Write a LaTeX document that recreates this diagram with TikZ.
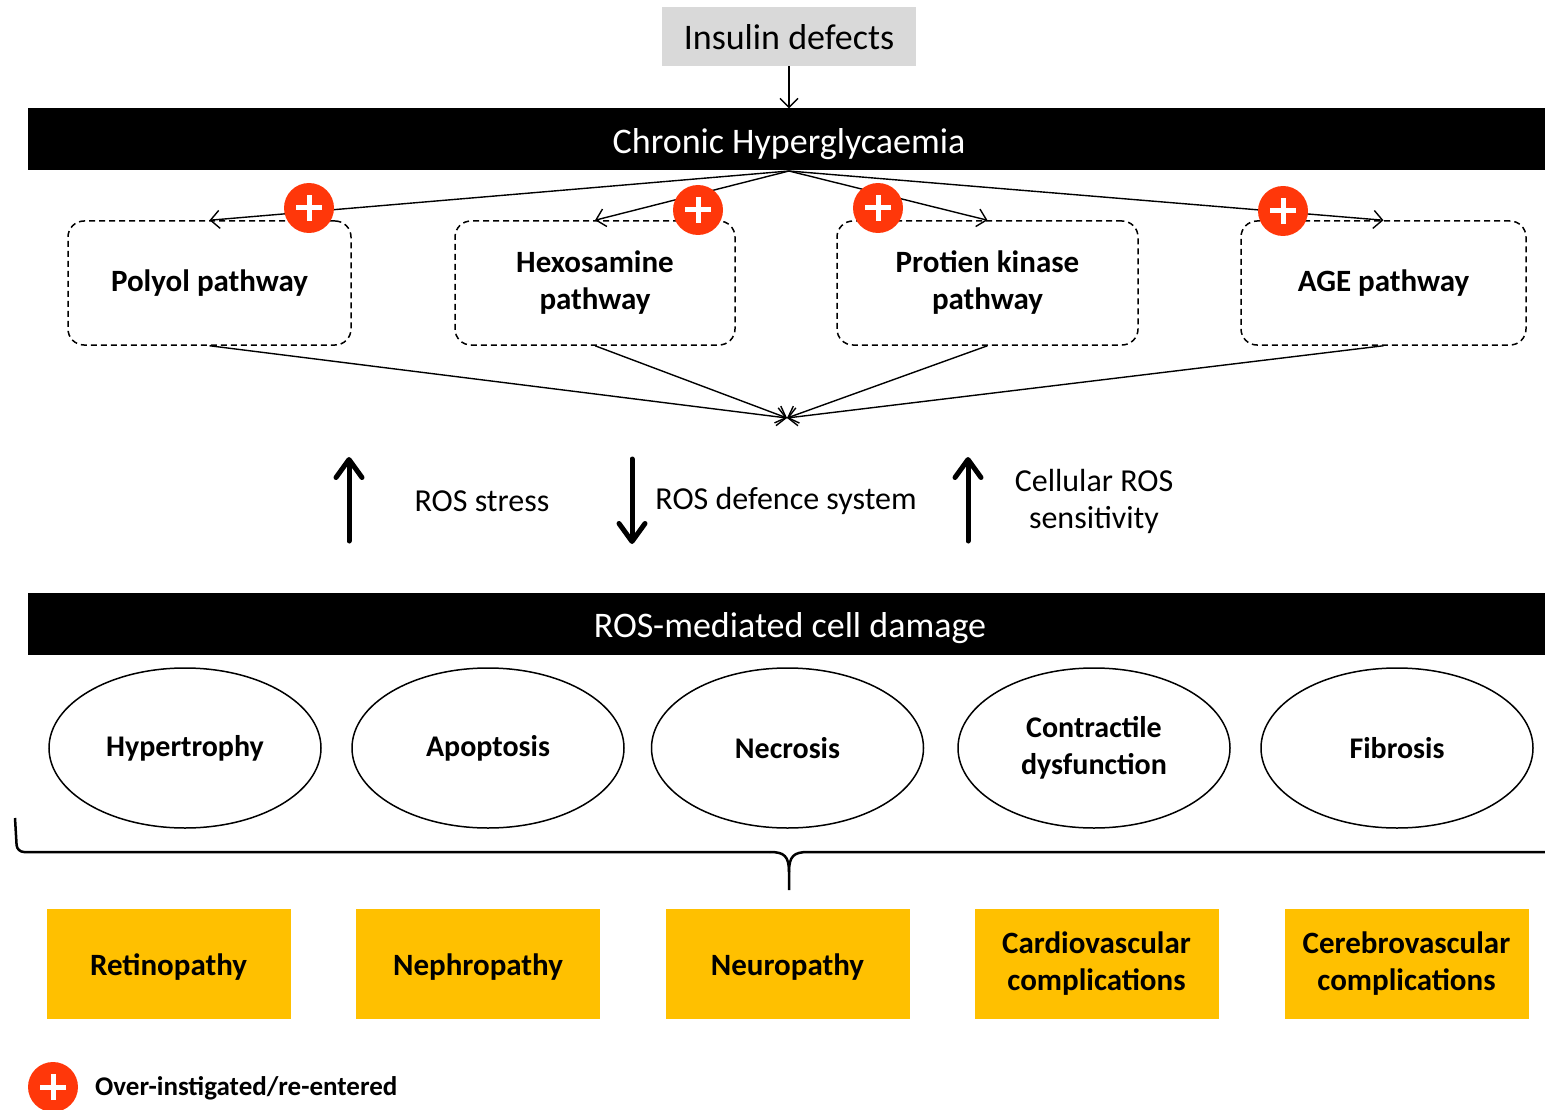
\documentclass[tikz,border=0pt]{standalone}
\usepackage{fontspec}
\setmainfont{Carlito}
\usetikzlibrary{arrows.meta,shapes.geometric}
\definecolor{plusred}{RGB}{255,55,10}
\definecolor{ambr}{RGB}{255,192,0}
\definecolor{insgray}{RGB}{217,217,217}
\begin{document}
\begin{tikzpicture}[x=1pt,y=-1pt,
  every node/.style={inner sep=0pt, align=center},
  bar/.style={fill=black, text=white, minimum height=62, font=\fontsize{36}{40}\selectfont},
  pathbox/.style={draw, dash pattern=on 6pt off 4pt, line width=1.5pt, rounded corners=16pt, minimum height=124, font=\bfseries\fontsize{31}{37}\selectfont},
  oval/.style={draw, ellipse, line width=1.5pt, minimum width=272, minimum height=160, font=\bfseries\fontsize{30}{37}\selectfont},
  complbox/.style={fill=ambr, minimum width=244, minimum height=110, font=\bfseries\fontsize{31}{37}\selectfont},
  linkarr/.style={line width=1.4pt, -{Straight Barb[length=9pt,width=18pt,line width=1.4pt]}},
  bigarr/.style={line width=5pt, line cap=round, -{Straight Barb[length=18pt,width=26pt,line width=5pt,round]}},
  rostext/.style={font=\fontsize{32}{37}\selectfont},
  plusc/.style={circle, fill=plusred, minimum size=50pt,
    path picture={\draw[white,line width=5pt]
      ([xshift=-13pt]path picture bounding box.center) -- ([xshift=13pt]path picture bounding box.center)
      ([yshift=-13pt]path picture bounding box.center) -- ([yshift=13pt]path picture bounding box.center);}}
]
\useasboundingbox (0,0) rectangle (1545,1110);

% top
\node[fill=insgray, minimum width=254, minimum height=59, font=\fontsize{36}{40}\selectfont] (ins) at (789,36.5) {\raisebox{-13pt}[0pt][0pt]{Insulin defects}};
\node[bar, minimum width=1517] (chb) at (786.5,139.5) {\hspace*{5pt}\raisebox{-14.5pt}[0pt][0pt]{Chronic Hyperglycaemia}};
\coordinate (hub) at (789,171);
\draw[linkarr] (ins.south) -- (ins.south |- chb.north);

% pathways
\node[pathbox, minimum width=283] (poly) at (209.5,283) {Polyol pathway};
\node[pathbox, minimum width=280] (hexo) at (595,283) {Hexosamine\\pathway};
\node[pathbox, minimum width=301] (pkc) at (987.5,283) {Protien kinase\\pathway};
\node[pathbox, minimum width=285] (age) at (1383.5,283) {AGE pathway};

\draw[linkarr] (hub) -- (poly.north);
\draw[linkarr] (hub) -- (hexo.north);
\draw[linkarr] (hub) -- (pkc.north);
\draw[linkarr] (hub) -- (age.north);

\node[plusc] (p1) at (309,208) {};
\node[plusc] (p2) at (698,210) {};
\node[plusc] (p3) at (878,208) {};
\node[plusc] (p4) at (1283,211) {};

\coordinate (conv) at (787,418);
\draw[linkarr] (poly.south) -- (conv);
\draw[linkarr] (hexo.south) -- (conv);
\draw[linkarr] (pkc.south) -- (conv);
\draw[linkarr] (age.south) -- (conv);

% ROS arrows
\coordinate (a1b) at (349,541); \coordinate (a1t) at (349,457);
\coordinate (a2t) at (632,459); \coordinate (a2b) at (632,544);
\coordinate (a3b) at (968,541); \coordinate (a3t) at (968,457);
\draw[bigarr] (a1b) -- (a1t);
\draw[bigarr] (a2t) -- (a2b);
\draw[bigarr] (a3b) -- (a3t);
\node[rostext] (t1) at (482,501) {ROS stress};
\node[rostext] (t2) at (786,501) {ROS defence system};
\node[rostext] (t3) at (1094,501) {Cellular ROS\\sensitivity};

% ROS bar
\node[bar, minimum width=1517] (rosb) at (786.5,624) {\hspace*{7pt}\raisebox{-13.5pt}[0pt][0pt]{ROS-mediated cell damage}};

% ovals
\node[oval] (o1) at (185,748) {Hypertrophy};
\node[oval] (o2) at (488,748) {Apoptosis};
\node[oval] (o3) at (787.5,748) {Necrosis};
\node[oval] (o4) at (1094,748) {Contractile\\dysfunction};
\node[oval] (o5) at (1397,748) {Fibrosis};

% brace
\draw[line width=2.5pt, rounded corners=7pt] (15,818) -- (17,852) -- (770,852);
\draw[line width=2.5pt] (770,852) .. controls (784,852) and (789,856) .. (789,872) -- (789,890);
\draw[line width=2.5pt] (789,872) .. controls (789,856) and (794,852) .. (808,852) -- (1545,852);

% complications
\node[complbox] (c1) at (168.5,964) {\raisebox{-11.5pt}[0pt][0pt]{Retinopathy}};
\node[complbox] (c2) at (478,964) {\raisebox{-11.5pt}[0pt][0pt]{Nephropathy}};
\node[complbox] (c3) at (787.5,964) {\raisebox{-11.5pt}[0pt][0pt]{Neuropathy}};
\node[complbox] (c4) at (1096.5,964) {Cardiovascular\\complications};
\node[complbox] (c5) at (1406.5,964) {Cerebrovascular\\complications};

% legend
\node[plusc] (lg) at (53,1087) {};
\node[anchor=west, font=\bfseries\fontsize{27}{30}\selectfont] (lgt) at (95,1088) {Over-instigated/re-entered};
\end{tikzpicture}
\end{document}
